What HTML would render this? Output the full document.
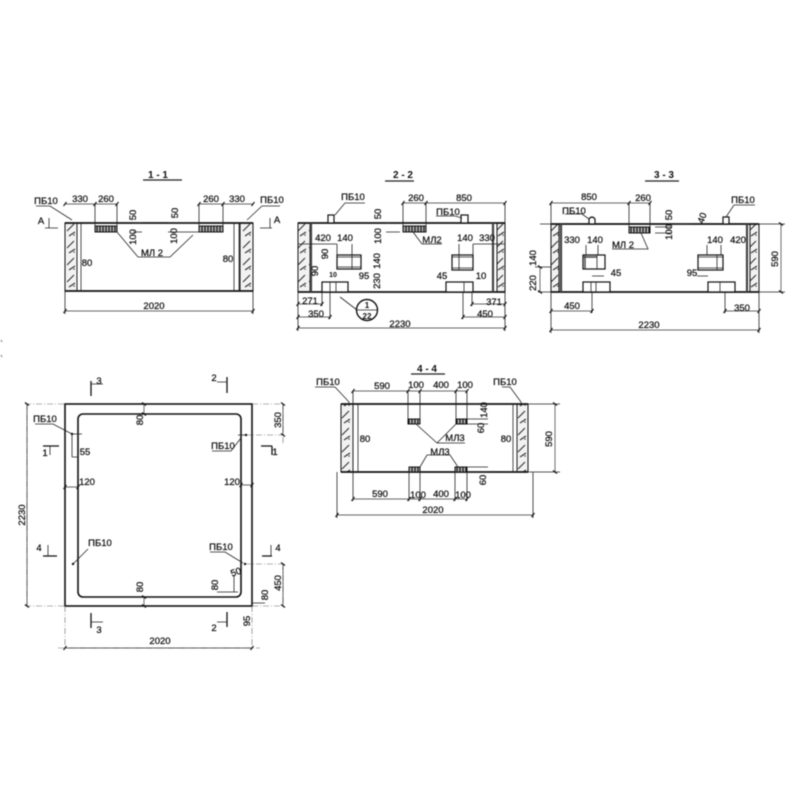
<!DOCTYPE html>
<html><head><meta charset="utf-8"><style>
html,body{margin:0;padding:0;background:#fff}
svg{display:block;filter:blur(.4px)}
text{font-family:"Liberation Sans",sans-serif;font-size:10px;fill:#111;text-anchor:middle;font-weight:bold;stroke:none}
.s{font-size:9.5px;font-weight:normal;stroke:#111;stroke-width:.25}
.b{fill:none;stroke:#111;stroke-width:1.8}
.l{fill:none;stroke:#222;stroke-width:.8}
.d{fill:none;stroke:#333;stroke-width:.7;marker-start:url(#t);marker-mid:url(#t);marker-end:url(#t)}
.c{fill:none;stroke:#666;stroke-width:.6;stroke-dasharray:6 2 1 2}
.h{fill:url(#hp);stroke:#111;stroke-width:1}
.k{fill:url(#kp);stroke:#111;stroke-width:1}
.w{fill:#fff;stroke:#111;stroke-width:1.2}
.g{fill:none;stroke:#444;stroke-width:2.2}
</style></head><body>
<svg width="800" height="800" viewBox="0 0 800 800" xmlns="http://www.w3.org/2000/svg">
<defs>
<marker id="t" markerWidth="8" markerHeight="8" refX="4" refY="4" markerUnits="userSpaceOnUse" orient="auto"><path d="M2.5 6L5.5 2" stroke="#111" stroke-width="1.1"/></marker>
<pattern id="hp" width="11" height="17" patternUnits="userSpaceOnUse"><rect width="11" height="17" fill="#f2f2f2"/><path d="M1 10L8 3M3 15L9 11" stroke="#333" stroke-width="1.1"/><circle cx="8" cy="14" r=".8" fill="#444"/></pattern>
<pattern id="kp" width="3" height="6" patternUnits="userSpaceOnUse"><rect width="3" height="6" fill="#aaa"/><path d="M1 0V6" stroke="#111" stroke-width="1.1"/></pattern>
</defs>
<rect width="800" height="800" fill="#fff"/>
<path d="M1 340l1 2M1 355l1 2" stroke="#777"/>

<!-- 1-1 -->
<text x="158" y="178" font-size="11">1 - 1</text>
<path class="l" style="stroke-width:1.2" d="M143 180H182"/>
<rect class="h" x="65" y="223" width="12" height="68"/>
<rect class="h" x="240" y="223" width="13" height="68"/>
<path class="b" d="M65 223H253M65 291H253"/>
<path class="l" d="M77 223V291M81 223V291M234 223V291M239 223V291"/>
<rect class="k" x="95" y="226" width="22" height="6"/>
<rect class="k" x="199" y="226" width="24" height="6"/>
<polyline class="d" points="65,204 95,204 117,204"/>
<polyline class="d" points="199,204 223,204 253,204"/>
<path class="l" d="M95 204V226M117 204V226M199 204V226M223 204V226M117 232L138 257H170L193 235M133 223H142M133 232H142M168 223H199M168 232H199"/>
<path class="l" d="M36 206H50L72 220M280 206H262L247 220M45 228H58M260 228H272M49 228V218M270 228V218"/>
<text x="80" y="202" class="s">330</text><text x="106" y="202" class="s">260</text><text x="211" y="202" class="s">260</text><text x="237" y="202" class="s">330</text>
<text x="46" y="204" class="s">ПБ10</text><text x="272" y="203" class="s">ПБ10</text>
<text x="41" y="224" class="s">A</text><text x="277" y="223" class="s">A</text>
<text x="152" y="256" class="s">МЛ 2</text>
<text x="87" y="266" class="s">80</text><text x="228" y="262" class="s">80</text>
<text transform="translate(136,215) rotate(-90)" class="s">50</text><text transform="translate(136,237) rotate(-90)" class="s">100</text><text transform="translate(178,213) rotate(-90)" class="s">50</text><text transform="translate(177,236) rotate(-90)" class="s">100</text>
<path class="d" d="M65 311H253"/><path class="l" d="M65 291V314M253 291V314"/>
<text x="154" y="309" class="s">2020</text>

<!-- 2-2 -->
<text x="403" y="178" font-size="11">2 - 2</text>
<path class="l" style="stroke-width:1.2" d="M385 181H414"/>
<rect class="h" x="298" y="223" width="12" height="69"/>
<rect class="h" x="497" y="223" width="8" height="69"/>
<path class="b" d="M298 223H505M298 292H505"/>
<path class="g" d="M311 223V292M493 223V292"/>
<rect class="w" x="328" y="215" width="6" height="8"/><rect class="w" x="461" y="215" width="7" height="8"/>
<rect class="k" x="403" y="226" width="23" height="6"/>
<polyline class="d" points="403,203 426,203 505,203"/>
<path class="l" d="M403 203V226M426 203V226M505 203V223M335 215L345 203H365M436 216H455L462 218M413 232L422 244H442"/>
<text x="353" y="200" class="s">ПБ10</text><text x="448" y="215" class="s">ПБ10</text>
<text x="416" y="201" class="s">260</text><text x="464" y="201" class="s">850</text><text x="432" y="243" class="s">МЛ2</text>
<rect class="w" x="337" y="255" width="24" height="14"/><path class="l" d="M337 257H361M337 267H361M352 255V269"/>
<rect class="w" x="452" y="255" width="21" height="15"/><path class="l" d="M452 257H473M452 268H473M459 255V270"/>
<rect class="w" x="322" y="282" width="26" height="10"/><path class="l" d="M330 282V292M336 282V292"/>
<rect class="w" x="446" y="282" width="27" height="10"/><path class="l" d="M464 282V292"/>
<path class="l" d="M298 244H337M473 244H505M337 244V255M352 244V255M459 244V255M473 244V255M386 223H390M386 232H400"/>
<text x="323" y="241" class="s">420</text><text x="345" y="241" class="s">140</text><text x="465" y="241" class="s">140</text><text x="487" y="241" class="s">330</text>
<text x="364" y="279" class="s">95</text><text x="333" y="277" style="font-size:7px">10</text>
<text x="442" y="279" class="s">45</text><text x="481" y="279" class="s">10</text>
<text transform="translate(328,254) rotate(-90)" class="s">90</text><text transform="translate(318,271) rotate(-90)" class="s">90</text>
<text transform="translate(380,261) rotate(-90)" class="s">140</text><text transform="translate(380,281) rotate(-90)" class="s">230</text>
<text transform="translate(381,214) rotate(-90)" class="s">50</text><text transform="translate(381,236) rotate(-90)" class="s">100</text>
<polyline class="d" points="298,304 322,304"/><polyline class="d" points="298,317 330,317"/><polyline class="d" points="298,328 505,328"/>
<polyline class="d" points="472,304 505,304"/><polyline class="d" points="463,317 505,317"/>
<path class="l" d="M298 292V331M505 292V331M322 292V306M330 292V319M463 292V319M472 292V306M340 297L357 310"/>
<text x="310" y="304" class="s">271</text><text x="316" y="317" class="s">350</text><text x="494" y="305" class="s">371</text><text x="485" y="317" class="s">450</text><text x="400" y="327" class="s">2230</text>
<circle cx="367" cy="310" r="10.5" fill="#fff" stroke="#111" stroke-width="1.4"/><path class="l" d="M357 310H377"/>
<text x="367" y="308" style="font-size:8px">1</text><text x="367" y="319" style="font-size:8px">22</text>

<!-- 3-3 -->
<text x="664" y="178" font-size="11">3 - 3</text>
<path class="l" style="stroke-width:1.2" d="M645 181H679"/>
<rect class="h" x="551" y="224" width="8" height="68"/>
<rect class="h" x="750" y="224" width="9" height="68"/>
<path class="b" d="M551 224H759M551 292H759"/>
<path class="g" d="M561 224V292M747 224V292"/>
<path class="w" d="M589 224V219Q592 215 595 219V224Z"/><rect class="w" x="723" y="217" width="6" height="7"/>
<rect class="k" x="629" y="227" width="21" height="6"/>
<polyline class="d" points="551,203 629,203 650,203"/>
<path class="l" d="M551 203V224M629 203V227M650 203V227M565 214H582L589 219M726 217L734 205H755M641 233L648 249H612M655 227H672M655 233H672M675 224H690"/>
<text x="589" y="200" class="s">850</text><text x="643" y="201" class="s">260</text>
<text x="574" y="214" class="s">ПБ10</text><text x="743" y="203" class="s">ПБ10</text>
<text x="623" y="248" class="s">МЛ 2</text>
<text transform="translate(672,215) rotate(-90)" class="s">50</text><text transform="translate(672,232) rotate(-90)" class="s">100</text><text transform="translate(705,219) rotate(-70)" class="s">40</text>
<rect class="w" x="583" y="255" width="22" height="14"/><path class="g" style="stroke-width:1.4" d="M583 257H597M585 255V269"/><path class="l" d="M597 255V269"/>
<rect class="w" x="698" y="255" width="25" height="15"/><path class="l" d="M698 257H723M698 268H723M717 255V270"/>
<rect class="w" x="583" y="282" width="27" height="10"/><path class="l" d="M591 282V292M596 282V292"/>
<rect class="w" x="708" y="282" width="27" height="10"/><path class="l" d="M720 282V292"/>
<text x="572" y="243" class="s">330</text><text x="595" y="243" class="s">140</text><text x="616" y="276" class="s">45</text><text x="715" y="243" class="s">140</text><text x="738" y="243" class="s">420</text><text x="692" y="276" class="s">95</text>
<path class="l" d="M586 245V255M598 245V255M707 245V255M721 245V255M592 276H604M697 276H708M592 292V313M725 292V313M540 224H551M535 267H551M538 292H551M759 224H785M759 292H785"/>
<path class="d" d="M781 224V292M540 267V292"/>
<text transform="translate(778,259) rotate(-90)" class="s">590</text><text transform="translate(536,258) rotate(-90)" class="s">140</text><text transform="translate(536,283) rotate(-90)" class="s">220</text>
<polyline class="d" points="551,311 592,311"/><polyline class="d" points="725,311 759,311"/><polyline class="d" points="551,330 759,330"/>
<path class="l" d="M551 292V333M759 292V333"/>
<text x="572" y="309" class="s">450</text><text x="742" y="311" class="s">350</text><text x="649" y="328" class="s">2230</text>

<!-- plan -->
<rect x="65" y="404" width="187" height="202" fill="none" stroke="#111" stroke-width="1.6"/>
<rect x="78" y="414" width="163" height="183" rx="5" fill="none" stroke="#111" stroke-width="1.6"/>
<path class="c" d="M27 404V606M25 404H65M25 606H65M65 606V650M252 606V650M252 404H285M245 435H285M245 564H285M252 606H285M283 404V445M283 564V606M58 648H260"/>
<path class="d" d="M27 404V606M65 648H252M283 404V435M283 564V606M65 487H78M241 485H252M144 404V414M144 597V606"/>
<text transform="translate(25,515) rotate(-90)" class="s">2230</text>
<text x="160" y="644" class="s">2020</text>
<text transform="translate(281,420) rotate(-90)" class="s">350</text><text transform="translate(281,583) rotate(-90)" class="s">450</text>
<path class="b" style="stroke-width:1.3" d="M91 381V396M227 377V393M272 446V455M261 446H272M43 446H59M43 556H57M262 556H272M91 613V628M227 612V627"/>
<path class="l" d="M91 384H103M217 382H227M91 622H103M217 622H227M50 446V455M48 556V545M271 556V545"/>
<text x="99" y="384" class="s">3</text><text x="214" y="381" class="s">2</text><text x="45" y="456" class="s">1</text><text x="275" y="455" class="s">1</text><text x="39" y="551" class="s">4</text><text x="278" y="551" class="s">4</text><text x="99" y="633" class="s">3</text><text x="214" y="631" class="s">2</text>
<path class="l" d="M35 424H53L72 434M212 451H231L241 438M73 564L88 549M210 552H225L243 563M72 434H82M72 434V457M78 457H72M238 435H245M234 575V592M217 592H238M252 603H265"/>
<circle cx="72" cy="434" r="1.2" fill="#111"/><circle cx="246" cy="435" r="1.2" fill="#111"/><circle cx="73" cy="564" r="1.2" fill="#111"/><circle cx="245" cy="564" r="1.2" fill="#111"/>
<text x="45" y="422" class="s">ПБ10</text><text x="223" y="449" class="s">ПБ10</text><text x="100" y="546" class="s">ПБ10</text><text x="221" y="550" class="s">ПБ10</text>
<text x="85" y="455" class="s">55</text><text x="87" y="485" class="s">120</text><text x="232" y="485" class="s">120</text>
<text transform="translate(143,420) rotate(-90)" class="s">80</text><text transform="translate(143,587) rotate(-90)" class="s">80</text><text transform="translate(218,585) rotate(-90)" class="s">80</text><text transform="translate(237,575) rotate(-20)" class="s">50</text><text transform="translate(268,595) rotate(-90)" class="s">80</text><text transform="translate(250,621) rotate(-90)" class="s">95</text>

<!-- 4-4 -->
<text x="427" y="372" font-size="11">4 - 4</text>
<path class="l" style="stroke-width:1.2" d="M411 374H445"/>
<rect class="h" x="341" y="404" width="12" height="68"/>
<rect class="h" x="517" y="404" width="11" height="68"/>
<path class="b" d="M341 404H528M341 472H528"/>
<path class="l" d="M353 404V472M358 404V472M513 404V472M517 404V472"/>
<rect class="k" x="408" y="419" width="12" height="5"/><rect class="k" x="456" y="419" width="11" height="5"/>
<rect class="k" x="409" y="467" width="11" height="5"/><rect class="k" x="455" y="467" width="12" height="5"/>
<polyline class="d" points="353,391 408,391 420,391 456,391 467,391"/>
<polyline class="d" points="353,499 409,499 420,499 455,499 467,499"/>
<path class="l" d="M353 391V404M408 391V419M420 391V419M456 391V419M467 391V419M353 472V501M409 472V501M420 472V501M455 472V501M467 472V501M416 424L437 443H465M456 424L437 443M420 467L427 455H450L458 467M467 404H488M467 419H488M467 424H488M467 467H488M467 472H488"/>
<text x="382" y="389" class="s">590</text><text x="416" y="388" class="s">100</text><text x="441" y="388" class="s">400</text><text x="465" y="388" class="s">100</text>
<text x="380" y="497" class="s">590</text><text x="418" y="498" class="s">100</text><text x="441" y="497" class="s">400</text><text x="463" y="498" class="s">100</text>
<text x="455" y="441" class="s">МЛ3</text><text x="440" y="455" class="s">МЛ3</text>
<text x="365" y="442" class="s">80</text><text x="506" y="442" class="s">80</text>
<text transform="translate(487,410) rotate(-90)" class="s">140</text><text transform="translate(484,428) rotate(-90)" class="s">60</text><text transform="translate(486,480) rotate(-90)" class="s">60</text>
<path class="l" d="M315 387H335L349 402M502 387H510L521 402M349 402V404M521 402V404"/>
<text x="328" y="385" class="s">ПБ10</text><text x="505" y="385" class="s">ПБ10</text>
<path class="l" d="M528 404H560M528 472H560M337 472V518M533 472V518"/>
<path class="d" d="M555 404V472M337 515H533"/>
<text transform="translate(552,439) rotate(-90)" class="s">590</text>
<text x="433" y="513" class="s">2020</text>
</svg>
</body></html>
